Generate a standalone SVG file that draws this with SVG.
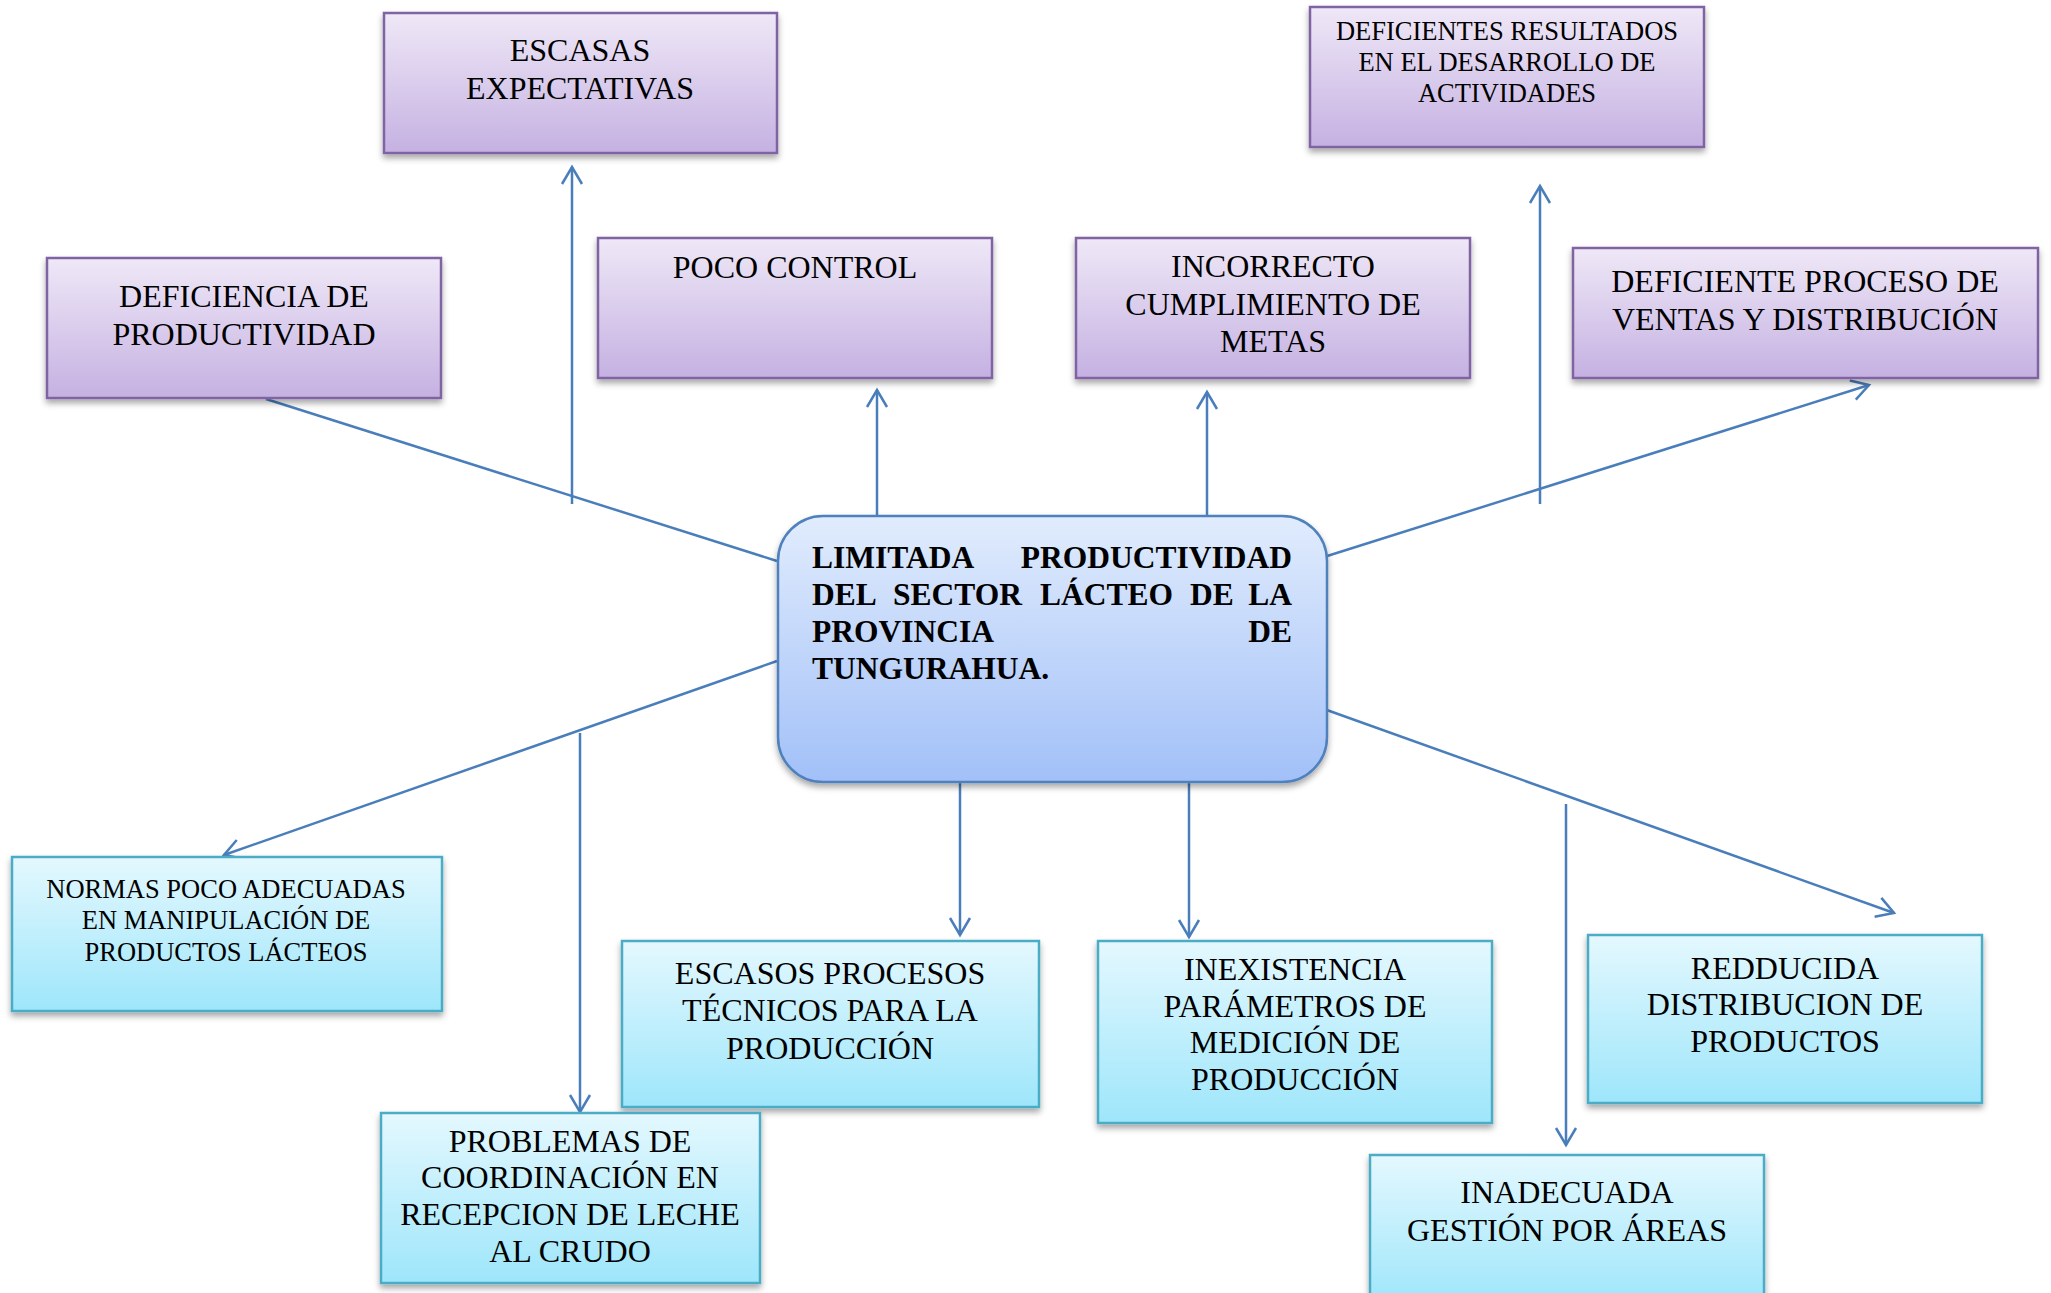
<svg xmlns="http://www.w3.org/2000/svg" width="2051" height="1293" viewBox="0 0 2051 1293">
<defs>
<linearGradient id="gP" x1="0" y1="0" x2="0" y2="1"><stop offset="0" stop-color="#efe8f7"/><stop offset="1" stop-color="#c5b1e2"/></linearGradient>
<linearGradient id="gC" x1="0" y1="0" x2="0" y2="1"><stop offset="0" stop-color="#e4f8fe"/><stop offset="1" stop-color="#9ee6fb"/></linearGradient>
<linearGradient id="gM" x1="0" y1="0" x2="0" y2="1"><stop offset="0" stop-color="#e1ecfd"/><stop offset="1" stop-color="#a2c0f8"/></linearGradient>
<filter id="sh" x="-10%" y="-10%" width="120%" height="130%"><feDropShadow dx="0" dy="4" stdDeviation="3" flood-color="#000" flood-opacity="0.35"/></filter>
<marker id="ah" markerUnits="userSpaceOnUse" viewBox="-20 -12 24 24" refX="0" refY="0" markerWidth="24" markerHeight="24" orient="auto"><path d="M-17,-10 L0,0 L-17,10" fill="none" stroke="#4a7ebb" stroke-width="2.5"/></marker>
<style>
.p{fill:url(#gP);stroke:#8064a2;stroke-width:2.5;filter:url(#sh)}
.c{fill:url(#gC);stroke:#4bacc6;stroke-width:2.5;filter:url(#sh)}
.m{fill:url(#gM);stroke:#4f81bd;stroke-width:2.5;filter:url(#sh)}
.t{font-family:"Liberation Serif","Times New Roman",serif;font-size:32px;fill:#000;text-anchor:middle}
.s{font-size:26.5px}
.b{font-family:"Liberation Serif","Times New Roman",serif;font-size:31.5px;font-weight:bold;fill:#000}
.ln{fill:none;stroke:#4a7ebb;stroke-width:2.5}
.ar{marker-end:url(#ah)}
</style>
</defs>
<rect width="2051" height="1293" fill="#fff"/>
<g id="connectors">
<path class="ln" d="M266,399 L777,561"/>
<path class="ln ar" d="M572,504 L572,167"/>
<path class="ln ar" d="M877,516 L877,390"/>
<path class="ln ar" d="M1207,516 L1207,392"/>
<path class="ln ar" d="M1540,504 L1540,186"/>
<path class="ln ar" d="M1324,557 L1869,385"/>
<path class="ln ar" d="M777,661 L224,855"/>
<path class="ln ar" d="M580,733 L580,1112"/>
<path class="ln ar" d="M960,782 L960,935"/>
<path class="ln ar" d="M1189,782 L1189,937"/>
<path class="ln ar" d="M1566,804 L1566,1145"/>
<path class="ln ar" d="M1324,709 L1894,913"/>
</g>
<g id="n-escasas-expectativas">
<rect class="p" x="384" y="13" width="393" height="140"/>
<text class="t"><tspan x="580" y="61">ESCASAS</tspan><tspan x="580" y="99">EXPECTATIVAS</tspan></text>
</g>
<g id="n-deficiencia-productividad">
<rect class="p" x="47" y="258" width="394" height="140"/>
<text class="t"><tspan x="244" y="307">DEFICIENCIA DE</tspan><tspan x="244" y="345">PRODUCTIVIDAD</tspan></text>
</g>
<g id="n-poco-control">
<rect class="p" x="598" y="238" width="394" height="140"/>
<text class="t"><tspan x="795" y="278">POCO CONTROL</tspan></text>
</g>
<g id="n-deficientes-resultados">
<rect class="p" x="1310" y="7" width="394" height="140"/>
<text class="t s"><tspan x="1507" y="40">DEFICIENTES RESULTADOS</tspan><tspan x="1507" y="71">EN EL DESARROLLO DE</tspan><tspan x="1507" y="102">ACTIVIDADES</tspan></text>
</g>
<g id="n-incorrecto-cumplimiento">
<rect class="p" x="1076" y="238" width="394" height="140"/>
<text class="t"><tspan x="1273" y="277">INCORRECTO</tspan><tspan x="1273" y="315">CUMPLIMIENTO DE</tspan><tspan x="1273" y="352">METAS</tspan></text>
</g>
<g id="n-deficiente-proceso">
<rect class="p" x="1573" y="248" width="465" height="130"/>
<text class="t"><tspan x="1805" y="292">DEFICIENTE PROCESO DE</tspan><tspan x="1805" y="330">VENTAS Y DISTRIBUCIÓN</tspan></text>
</g>
<g id="n-central">
<rect class="m" x="778" y="516" width="549" height="266" rx="45" ry="45"/>
<text class="b"><tspan x="812" y="568">LIMITADA</tspan><tspan x="1292" y="568" text-anchor="end">PRODUCTIVIDAD</tspan></text>
<text class="b"><tspan x="812" y="605">DEL</tspan><tspan x="893" y="605">SECTOR</tspan><tspan x="1040" y="605">LÁCTEO</tspan><tspan x="1190" y="605">DE</tspan><tspan x="1292" y="605" text-anchor="end">LA</tspan></text>
<text class="b"><tspan x="812" y="642">PROVINCIA</tspan><tspan x="1292" y="642" text-anchor="end">DE</tspan></text>
<text class="b"><tspan x="812" y="679">TUNGURAHUA.</tspan></text>
</g>
<g id="n-normas">
<rect class="c" x="12" y="857" width="430" height="154"/>
<text class="t s"><tspan x="226" y="898">NORMAS POCO ADECUADAS</tspan><tspan x="226" y="929">EN MANIPULACIÓN DE</tspan><tspan x="226" y="961">PRODUCTOS LÁCTEOS</tspan></text>
</g>
<g id="n-escasos-procesos">
<rect class="c" x="622" y="941" width="417" height="166"/>
<text class="t"><tspan x="830" y="984">ESCASOS PROCESOS</tspan><tspan x="830" y="1021">TÉCNICOS PARA LA</tspan><tspan x="830" y="1059">PRODUCCIÓN</tspan></text>
</g>
<g id="n-problemas">
<rect class="c" x="381" y="1113" width="379" height="170"/>
<text class="t"><tspan x="570" y="1152">PROBLEMAS DE</tspan><tspan x="570" y="1188">COORDINACIÓN EN</tspan><tspan x="570" y="1225">RECEPCION DE LECHE</tspan><tspan x="570" y="1262">AL CRUDO</tspan></text>
</g>
<g id="n-inexistencia">
<rect class="c" x="1098" y="941" width="394" height="182"/>
<text class="t"><tspan x="1295" y="980">INEXISTENCIA</tspan><tspan x="1295" y="1017">PARÁMETROS DE</tspan><tspan x="1295" y="1053">MEDICIÓN DE</tspan><tspan x="1295" y="1090">PRODUCCIÓN</tspan></text>
</g>
<g id="n-reducida">
<rect class="c" x="1588" y="935" width="394" height="168"/>
<text class="t"><tspan x="1785" y="979">REDDUCIDA</tspan><tspan x="1785" y="1015">DISTRIBUCION DE</tspan><tspan x="1785" y="1052">PRODUCTOS</tspan></text>
</g>
<g id="n-inadecuada">
<rect class="c" x="1370" y="1155" width="394" height="150"/>
<text class="t"><tspan x="1567" y="1203">INADECUADA</tspan><tspan x="1567" y="1241">GESTIÓN POR ÁREAS</tspan></text>
</g>
</svg>
